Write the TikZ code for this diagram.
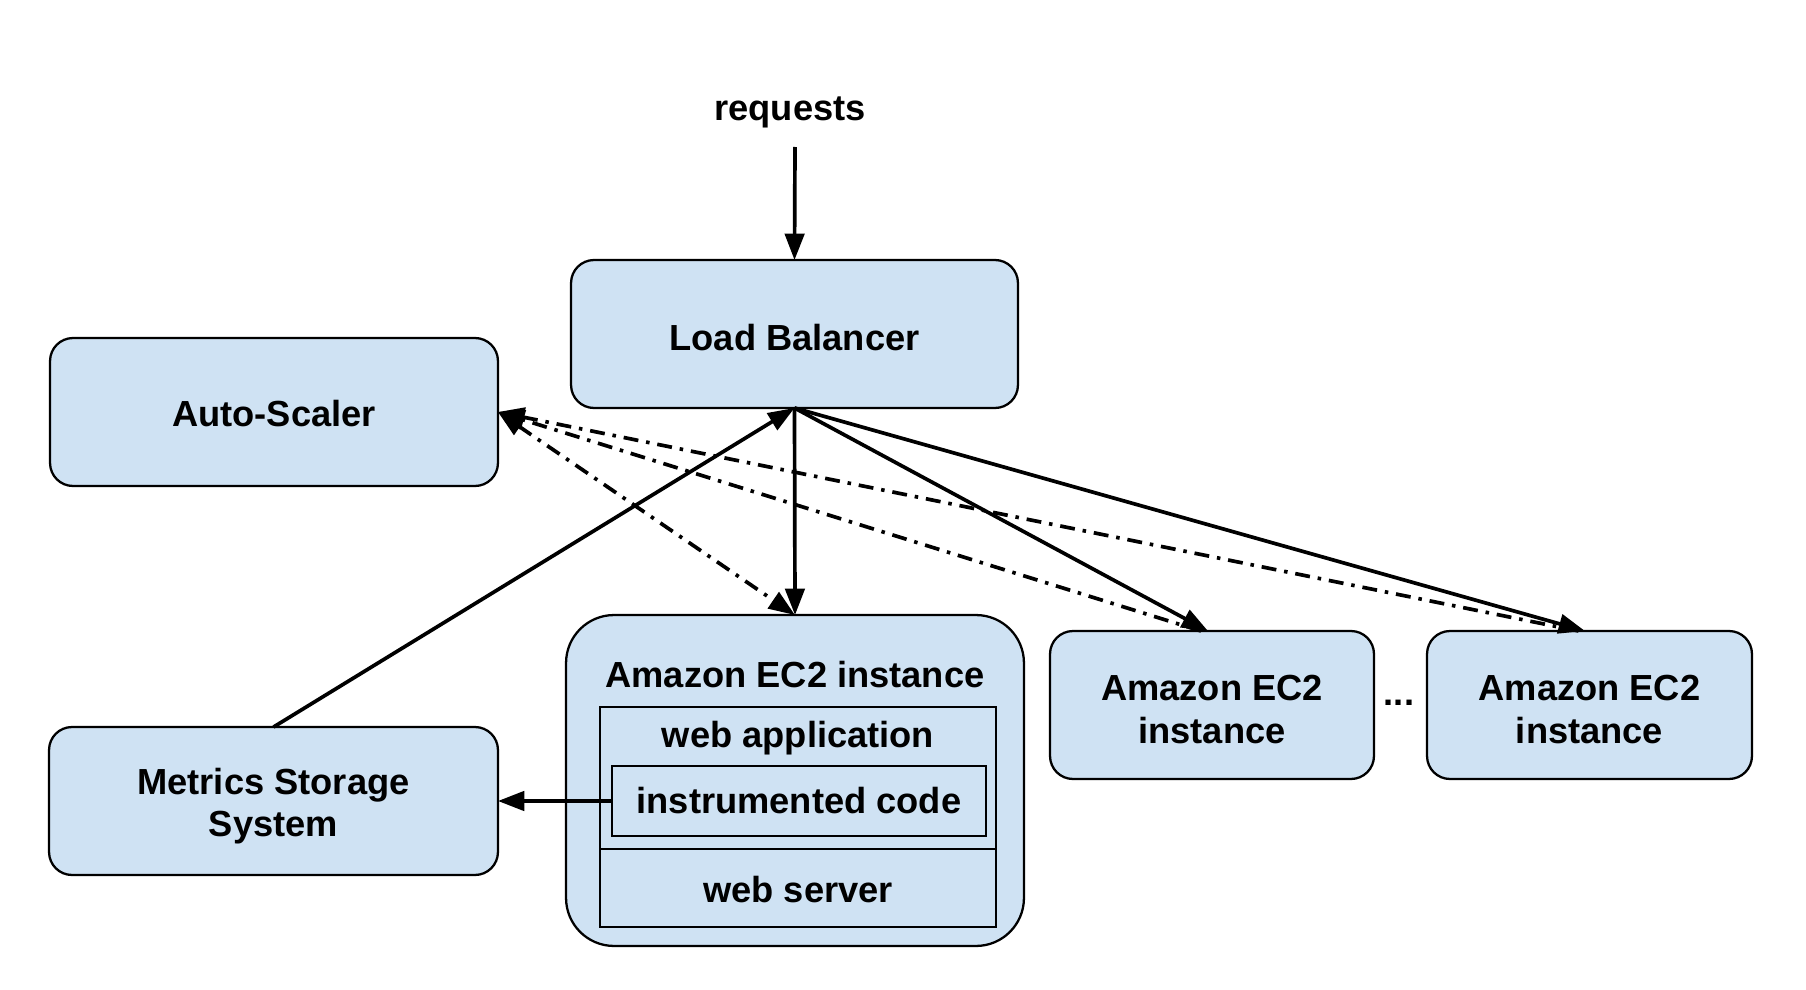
\documentclass[tikz,border=0pt]{standalone}
\usepackage{fontspec}
\setmainfont{Liberation Sans}
\usetikzlibrary{arrows.meta,calc}
\definecolor{boxblue}{HTML}{CFE2F3}
\begin{document}
\begin{tikzpicture}[x=0.02cm,y=-0.02cm,
  >={Triangle[length=15pt,width=11pt]},
  box/.style={draw=black, line width=1.3pt, fill=boxblue, rounded corners=0.46cm, inner sep=0pt, outer sep=0pt},
  innerbox/.style={draw=black, line width=1.3pt, inner sep=0pt, outer sep=0pt},
  lbl/.style={anchor=base, inner sep=0pt, font=\bfseries\fontsize{20.65pt}{24pt}\selectfont},
  conn/.style={line width=2.1pt, ->},
  dashdot/.style={line width=2.1pt, dash pattern=on 8.5pt off 4.5pt on 2pt off 4.5pt}]
\fill[white] (0,0) rectangle (1806,990);
\useasboundingbox (0,0) rectangle (1806,990);

% boxes
\node[box, minimum width=8.94cm, minimum height=2.96cm] (lb) at (794.5,334) {};
\node[box, minimum width=8.96cm, minimum height=2.96cm] (as) at (274,412) {};
\node[box, minimum width=8.98cm, minimum height=2.96cm] (ms) at (273.5,801) {};
\node[box, rounded corners=0.96cm, minimum width=9.16cm, minimum height=6.62cm] (ec2a) at (795,780.5) {};
\node[innerbox, minimum width=7.92cm, minimum height=2.84cm] (webapp) at (798,778) {};
\node[innerbox, minimum width=7.48cm, minimum height=1.4cm] (instr) at (799,801) {};
\node[innerbox, minimum width=7.92cm, minimum height=1.56cm] (websrv) at (798,888) {};
\node[box, minimum width=6.48cm, minimum height=2.96cm] (ec2b) at (1212,705) {};
\node[box, minimum width=6.5cm, minimum height=2.96cm] (ec2c) at (1589.5,705) {};

% texts
\node[lbl] (treq) at (790,121) {requests};
\node[lbl] (tlb) at (794.5,350) {Load Balancer};
\node[lbl] (tas) at (274,426) {Auto-Scaler};
\node[lbl] (tms1) at (273.5,794) {Metrics Storage};
\node[lbl] (tms2) at (273.5,836) {System};
\node[lbl] (tec2a) at (795,687) {Amazon EC2 instance};
\node[lbl] (twebapp) at (798,747) {web application};
\node[lbl] (tinstr) at (799,813) {instrumented code};
\node[lbl] (twebsrv) at (798,902) {web server};
\node[lbl] (tec2b1) at (1212,700) {Amazon EC2};
\node[lbl] (tec2b2) at (1212,743) {instance};
\node[lbl] (tec2c1) at (1589.5,700) {Amazon EC2};
\node[lbl] (tec2c2) at (1589.5,743) {instance};
\node[lbl] (tdots) at (1399,705) {...};

% connectors
\coordinate (reqtop) at (795,147);
\draw[conn] (reqtop) -- (lb.north);
\draw[conn] (lb.south) -- (ec2a.north);
\draw[conn] (lb.south) -- ([xshift=-0.08cm]ec2b.north);
\draw[conn] (lb.south) -- ([xshift=-0.09cm]ec2c.north);
\draw[conn] (ms.north) -- (lb.south);
\draw[conn] (instr.west) -- (ms.east);
\draw[dashdot,<->] (as.east) -- (ec2a.north);
\draw[dashdot,->] ([xshift=-0.22cm]ec2b.north) -- (as.east);
\draw[dashdot,->] ([xshift=-0.22cm]ec2c.north) -- (as.east);
\end{tikzpicture}
\end{document}
